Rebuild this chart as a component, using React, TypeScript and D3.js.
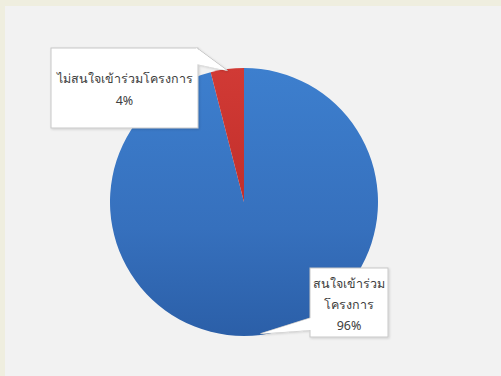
import React from "react";
import * as d3 from "d3";

const categories = ["สนใจเข้าร่วมโครงการ", "ไม่สนใจเข้าร่วมโครงการ"];
const values = [96, 4];
const labelLines = [["สนใจเข้าร่วม", "โครงการ", "96%"], ["ไม่สนใจเข้าร่วมโครงการ", "4%"]];

const W = 501, H = 376;
const cx = 244, cy = 202, R = 134;

// label boxes (layout)
const boxes = [
  { x: 310, y: 268, w: 78, h: 69, side: "left", base: 288, lh: 21 },
  { x: 51, y: 48, w: 147, h: 80, side: "right", base: 83, lh: 22 },
];

export default function App() {
  const pie = d3.pie<number>().sort(null).startAngle(0).endAngle(2 * Math.PI);
  const arcs = pie(values);
  const arc = d3.arc<d3.PieArcDatum<number>>().innerRadius(0).outerRadius(R);
  const fills = ["url(#gBlue)", "url(#gRed)"];

  const callout = (i: number) => {
    const a = arcs[i];
    const mid = (a.startAngle + a.endAngle) / 2;
    const tx = cx + Math.sin(mid) * R * 0.99;
    const ty = cy - Math.cos(mid) * R * 0.99;
    const b = boxes[i];
    if (b.side === "left") {
      return `M${b.x},${b.y + 50} L${tx},${ty} L${b.x},${b.y + 62}`;
    }
    return `M${b.x + b.w - 1},${b.y} L${tx},${ty} L${b.x + b.w - 1},${b.y + 16}`;
  };

  return (
    <svg width={W} height={H} style={{ position: "absolute", left: 0, top: 0 }} fontFamily="'Noto Sans', 'DejaVu Sans', sans-serif">
      <defs>
        <linearGradient id="gBlue" x1="0" y1="0" x2="0" y2="1">
          <stop offset="0" stopColor="#3d7fce" />
          <stop offset="0.6" stopColor="#3670bd" />
          <stop offset="1" stopColor="#2b5fa8" />
        </linearGradient>
        <linearGradient id="gRed" x1="0" y1="0" x2="0" y2="1">
          <stop offset="0" stopColor="#d13a35" />
          <stop offset="1" stopColor="#c22f2b" />
        </linearGradient>
        <filter id="sh" x="-10%" y="-10%" width="130%" height="130%">
          <feDropShadow dx="1" dy="1" stdDeviation="1" floodColor="#000" floodOpacity="0.15" />
        </filter>
      </defs>
      <rect x={0} y={0} width={W} height={H} fill="#efeedf" />
      <rect x={5} y={6} width={W - 5} height={H - 6} fill="#f2f2f2" />
      <g transform={`translate(${cx},${cy})`}>
        {arcs.map((a, i) => (
          <path key={categories[i]} d={arc(a) || ""} fill={fills[i]} />
        ))}
      </g>
      {boxes.map((b, i) => (
        <g key={i} filter="url(#sh)">
          <path d={callout(i)} fill="#ffffff" stroke="#c8c8c8" strokeWidth={1} />
          <rect x={b.x} y={b.y} width={b.w} height={b.h} fill="#ffffff" stroke="#c8c8c8" strokeWidth={1} />
          <path d={callout(i)} fill="#ffffff" stroke="none" transform={b.side === "left" ? "translate(1,0)" : "translate(-1,0)"} />
        </g>
      ))}
      {boxes.map((b, i) => {
        const lines = labelLines[i];
        return (
          <text key={"t" + i} x={b.x + b.w / 2} textAnchor="middle" fontSize={12.5} fill="#404040">
            {lines.map((l, j) => (
              <tspan key={j} x={b.x + b.w / 2} y={b.base + j * b.lh}>{l}</tspan>
            ))}
          </text>
        );
      })}
    </svg>
  );
}
